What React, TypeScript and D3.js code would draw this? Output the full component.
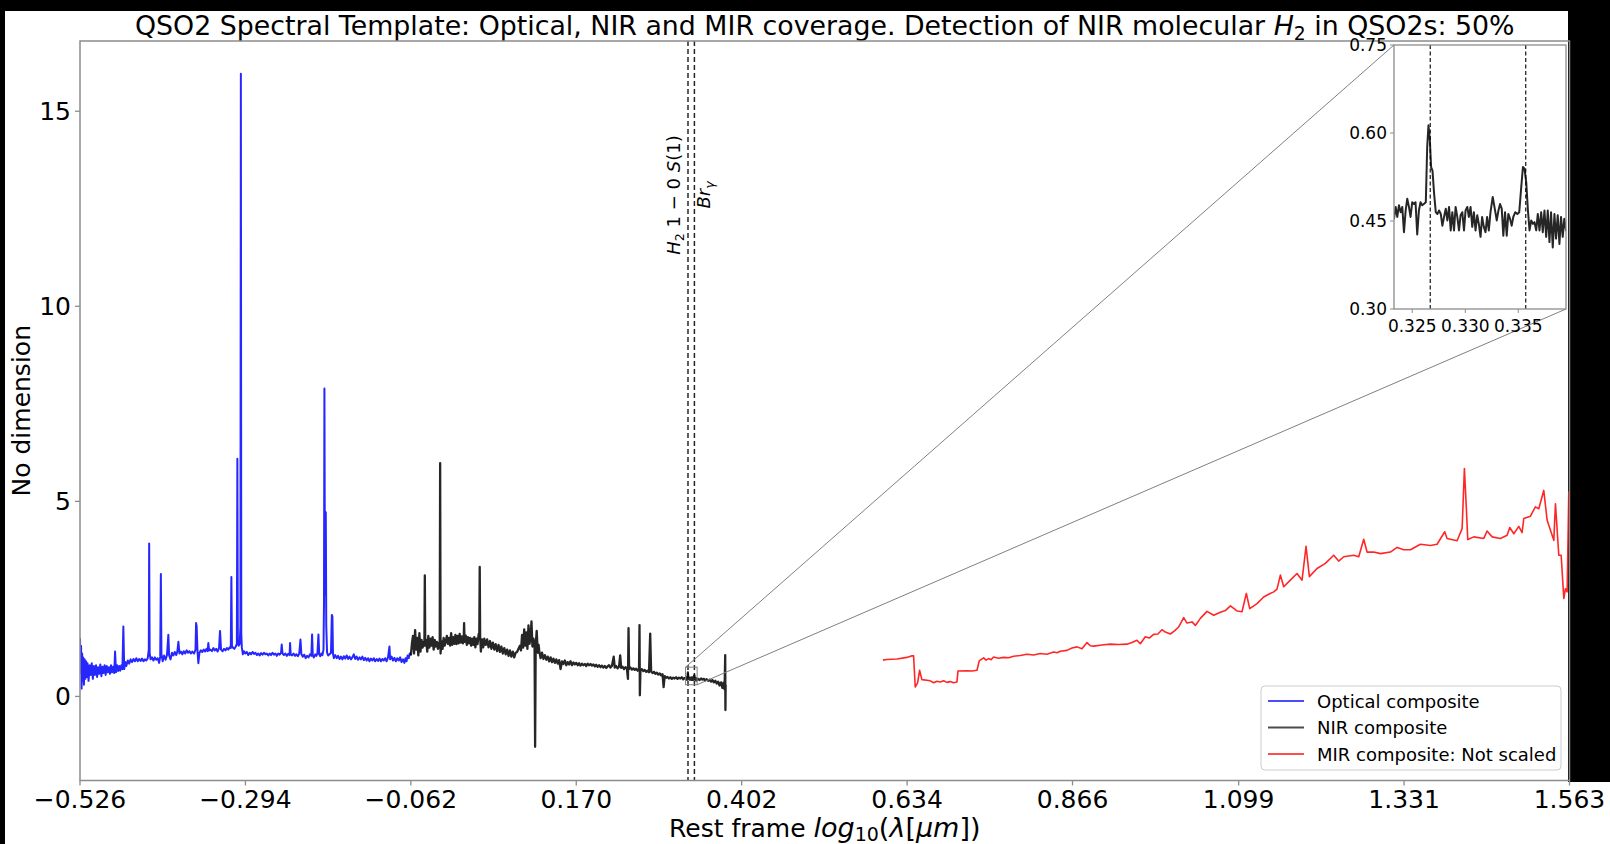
import React from 'react';
import * as d3 from 'd3';

// axis ticks
const xTicks = [-0.526, -0.294, -0.062, 0.17, 0.402, 0.634, 0.866, 1.099, 1.331, 1.563];
const xTickLabels = ['−0.526', '−0.294', '−0.062', '0.170', '0.402', '0.634', '0.866', '1.099', '1.331', '1.563'];
const yTicks = [0, 5, 10, 15];
const insetXTicks = [0.325, 0.33, 0.335];
const insetXTickLabels = ['0.325', '0.330', '0.335'];
const insetYTicks = [0.3, 0.45, 0.6, 0.75];
const insetYTickLabels = ['0.30', '0.45', '0.60', '0.75'];

// H2 1-0 S(1) and Br gamma, log10(lambda)
const lineWaves = [0.3267, 0.3357];

const legendLabels = ['Optical composite', 'NIR composite', 'MIR composite: Not scaled'];
const seriesColors = ['#0000ff', '#000000', '#ff0000'];

// optical composite (log10 um, flux)
const optical: [number, number][] = [
  [-0.526, 1.5], [-0.5252, 0.6], [-0.5245, 1.3], [-0.5238, 0.2], [-0.523, 1.1], [-0.5222, 0.4], [-0.5215, 1.0],
  [-0.5205, 0.3], [-0.5195, 0.95], [-0.5185, 0.45], [-0.5175, 0.9], [-0.5165, 0.5], [-0.5155, 0.85], [-0.514, 0.4],
  [-0.5125, 0.8], [-0.511, 0.55], [-0.5095, 0.85], [-0.508, 0.45], [-0.5065, 0.78], [-0.505, 0.55], [-0.5035, 0.8],
  [-0.502, 0.5], [-0.5005, 0.75], [-0.499, 0.58], [-0.4975, 0.82], [-0.496, 0.52], [-0.4945, 0.76], [-0.493, 0.6],
  [-0.4915, 0.8], [-0.49, 0.55], [-0.4885, 0.78], [-0.487, 0.62], [-0.4855, 0.75], [-0.484, 0.58], [-0.4825, 0.8],
  [-0.481, 0.62], [-0.4795, 0.76], [-0.478, 0.6], [-0.4768, 1.15], [-0.4755, 0.62], [-0.474, 0.8], [-0.4725, 0.65],
  [-0.471, 0.78], [-0.4695, 0.66], [-0.468, 0.8], [-0.4665, 0.7], [-0.4652, 1.79], [-0.464, 0.7], [-0.4625, 0.88],
  [-0.461, 0.78], [-0.459, 0.92], [-0.457, 0.84], [-0.455, 0.95], [-0.453, 0.88], [-0.451, 0.96], [-0.449, 0.9],
  [-0.447, 0.98], [-0.445, 0.9], [-0.443, 0.96], [-0.441, 0.91], [-0.439, 0.97], [-0.437, 0.9], [-0.435, 0.95],
  [-0.433, 0.92], [-0.431, 0.98], [-0.4295, 1.2], [-0.429, 3.92], [-0.4283, 1.1], [-0.427, 0.95], [-0.425, 1.0],
  [-0.423, 0.92], [-0.421, 1.0], [-0.419, 0.94], [-0.417, 0.98], [-0.415, 0.86], [-0.4135, 1.02], [-0.4126, 3.14],
  [-0.4118, 1.08], [-0.41, 0.9], [-0.408, 1.05], [-0.406, 0.94], [-0.404, 1.06], [-0.4021, 1.58], [-0.401, 1.05],
  [-0.399, 0.95], [-0.397, 1.12], [-0.395, 1.05], [-0.393, 1.14], [-0.391, 1.06], [-0.3895, 1.15], [-0.388, 1.4],
  [-0.3865, 1.1], [-0.3845, 1.15], [-0.3825, 1.08], [-0.3805, 1.16], [-0.3785, 1.1], [-0.3765, 1.18], [-0.3745, 1.12],
  [-0.3725, 1.16], [-0.3705, 1.1], [-0.3685, 1.15], [-0.366, 1.1], [-0.364, 1.2], [-0.3632, 1.88], [-0.3624, 1.8],
  [-0.3612, 1.15], [-0.36, 0.85], [-0.3585, 1.12], [-0.3565, 1.18], [-0.3545, 1.14], [-0.3525, 1.2], [-0.3505, 1.15],
  [-0.3485, 1.22], [-0.347, 1.16], [-0.346, 1.37], [-0.345, 1.18], [-0.343, 1.2], [-0.341, 1.16], [-0.339, 1.24],
  [-0.337, 1.18], [-0.335, 1.22], [-0.333, 1.15], [-0.331, 1.24], [-0.3296, 1.68], [-0.3282, 1.2], [-0.326, 1.16],
  [-0.324, 1.22], [-0.322, 1.18], [-0.32, 1.24], [-0.318, 1.2], [-0.316, 1.26], [-0.3145, 1.24], [-0.3137, 3.06],
  [-0.3129, 1.3], [-0.3115, 1.25], [-0.3095, 1.22], [-0.3075, 1.28], [-0.306, 1.35], [-0.3053, 6.09], [-0.3046, 1.4],
  [-0.3035, 1.3], [-0.302, 1.35], [-0.301, 1.8], [-0.3004, 15.96], [-0.2998, 1.6], [-0.299, 1.25], [-0.2975, 1.08],
  [-0.296, 1.16], [-0.294, 1.1], [-0.292, 1.14], [-0.29, 1.06], [-0.288, 1.12], [-0.286, 1.08], [-0.284, 1.14],
  [-0.282, 1.09], [-0.28, 1.12], [-0.278, 1.06], [-0.276, 1.1], [-0.274, 1.05], [-0.272, 1.11], [-0.27, 1.07],
  [-0.268, 1.12], [-0.266, 1.08], [-0.264, 1.1], [-0.262, 1.05], [-0.26, 1.1], [-0.258, 1.06], [-0.256, 1.12],
  [-0.254, 1.07], [-0.252, 1.1], [-0.25, 1.04], [-0.248, 1.1], [-0.246, 1.07], [-0.244, 1.12], [-0.2431, 1.33],
  [-0.242, 1.1], [-0.24, 1.06], [-0.238, 1.1], [-0.236, 1.04], [-0.234, 1.09], [-0.232, 1.06], [-0.2314, 1.37],
  [-0.2305, 1.08], [-0.2285, 1.05], [-0.2265, 1.1], [-0.2245, 1.04], [-0.2225, 1.08], [-0.2205, 1.03], [-0.2185, 1.1],
  [-0.2168, 1.46], [-0.2155, 1.08], [-0.2135, 1.02], [-0.2115, 1.07], [-0.2095, 0.98], [-0.2075, 1.04], [-0.2055, 1.0],
  [-0.2035, 1.08], [-0.2015, 1.04], [-0.2005, 1.59], [-0.1995, 1.05], [-0.198, 1.0], [-0.196, 1.08], [-0.1945, 1.04],
  [-0.193, 1.1], [-0.1916, 1.59], [-0.1905, 1.08], [-0.189, 1.03], [-0.1875, 1.1], [-0.186, 1.06], [-0.1845, 1.2],
  [-0.1838, 2.4], [-0.1832, 7.89], [-0.1826, 3.8], [-0.182, 2.6], [-0.1813, 4.72], [-0.1806, 1.8], [-0.1795, 1.12],
  [-0.178, 1.05], [-0.176, 1.08], [-0.174, 1.12], [-0.1728, 2.09], [-0.172, 2.05], [-0.1712, 1.1], [-0.17, 0.98],
  [-0.168, 1.06], [-0.166, 0.98], [-0.164, 1.04], [-0.162, 0.96], [-0.16, 1.02], [-0.158, 0.95], [-0.156, 1.03],
  [-0.154, 0.97], [-0.152, 1.05], [-0.15, 0.96], [-0.148, 1.02], [-0.146, 0.95], [-0.144, 1.0], [-0.142, 1.08],
  [-0.14, 0.96], [-0.138, 1.02], [-0.136, 0.94], [-0.134, 1.0], [-0.132, 0.95], [-0.13, 1.02], [-0.128, 0.93],
  [-0.126, 0.99], [-0.124, 0.92], [-0.122, 0.98], [-0.12, 0.9], [-0.118, 0.97], [-0.116, 0.92], [-0.114, 0.98],
  [-0.112, 0.9], [-0.11, 0.96], [-0.108, 0.91], [-0.106, 0.97], [-0.104, 0.9], [-0.102, 0.96], [-0.1, 0.92],
  [-0.098, 0.98], [-0.096, 0.9], [-0.094, 1.0], [-0.092, 1.28], [-0.091, 0.95], [-0.089, 1.02], [-0.087, 0.92],
  [-0.085, 0.99], [-0.083, 0.9], [-0.081, 0.98], [-0.079, 0.92], [-0.077, 1.0], [-0.075, 0.88], [-0.073, 0.95],
  [-0.071, 0.86], [-0.0695, 0.98], [-0.068, 0.9], [-0.0665, 1.05], [-0.065, 0.98], [-0.0635, 1.1], [-0.062, 1.05],
];

// NIR composite, before the zoomed window
const nirHead: [number, number][] = [
  [-0.062, 1.05], [-0.0605, 1.35], [-0.059, 1.55], [-0.0575, 1.1], [-0.056, 1.7], [-0.0545, 1.2], [-0.053, 1.5],
  [-0.0515, 1.05], [-0.05, 1.62], [-0.0485, 1.15], [-0.047, 1.45], [-0.0455, 1.25], [-0.044, 1.4], [-0.043, 1.3],
  [-0.0424, 3.1], [-0.0418, 1.3], [-0.0405, 1.45], [-0.039, 1.15], [-0.0375, 1.55], [-0.036, 1.25], [-0.0345, 1.48],
  [-0.033, 1.3], [-0.0315, 1.52], [-0.03, 1.2], [-0.0285, 1.45], [-0.027, 1.28], [-0.0255, 1.4], [-0.024, 1.22],
  [-0.0225, 1.38], [-0.0215, 1.25], [-0.0209, 5.98], [-0.0203, 1.1], [-0.019, 1.42], [-0.0175, 1.22], [-0.016, 1.5],
  [-0.0145, 1.3], [-0.013, 1.42], [-0.0115, 1.55], [-0.01, 1.35], [-0.0085, 1.5], [-0.007, 1.3], [-0.0055, 1.62],
  [-0.004, 1.32], [-0.0025, 1.52], [-0.001, 1.35], [0.0005, 1.58], [0.002, 1.34], [0.0035, 1.55], [0.005, 1.36],
  [0.0065, 1.6], [0.008, 1.38], [0.0095, 1.54], [0.011, 1.36], [0.0122, 1.5], [0.0127, 1.88], [0.0133, 1.4],
  [0.015, 1.56], [0.0165, 1.32], [0.018, 1.52], [0.0195, 1.36], [0.021, 1.5], [0.0225, 1.3], [0.024, 1.48],
  [0.0255, 1.32], [0.027, 1.52], [0.0285, 1.26], [0.03, 1.48], [0.0315, 1.34], [0.0332, 1.6], [0.034, 1.55],
  [0.0346, 3.32], [0.0352, 1.55], [0.0362, 1.15], [0.0378, 1.46], [0.0395, 1.26], [0.041, 1.48], [0.043, 1.32],
  [0.045, 1.46], [0.047, 1.26], [0.049, 1.42], [0.051, 1.22], [0.053, 1.38], [0.055, 1.2], [0.057, 1.34],
  [0.059, 1.16], [0.061, 1.32], [0.063, 1.14], [0.065, 1.28], [0.067, 1.1], [0.069, 1.24], [0.071, 1.08],
  [0.073, 1.2], [0.075, 1.04], [0.077, 1.18], [0.079, 1.02], [0.081, 1.15], [0.083, 1.0], [0.085, 1.12],
  [0.087, 1.14], [0.089, 1.22], [0.091, 1.3], [0.0925, 1.18], [0.094, 1.58], [0.0955, 1.25], [0.097, 1.72],
  [0.0985, 1.3], [0.1, 1.64], [0.1015, 1.22], [0.103, 1.82], [0.1045, 1.35], [0.106, 1.55], [0.1072, 1.92],
  [0.1085, 1.28], [0.11, 1.48], [0.1115, 1.3], [0.1123, -1.29], [0.1131, 1.3], [0.1145, 1.68], [0.116, 1.12],
  [0.1172, 1.32], [0.118, 1.18], [0.12, 0.98], [0.122, 1.12], [0.124, 0.96], [0.126, 1.06], [0.128, 0.94],
  [0.13, 1.02], [0.132, 0.9], [0.134, 1.0], [0.136, 0.88], [0.138, 0.97], [0.14, 0.86], [0.142, 0.95],
  [0.144, 0.84], [0.146, 0.93], [0.148, 0.7], [0.15, 0.9], [0.152, 0.83], [0.154, 0.92], [0.156, 0.8],
  [0.158, 0.88], [0.16, 0.82], [0.162, 0.9], [0.164, 0.8], [0.166, 0.87], [0.168, 0.82], [0.17, 0.86],
  [0.172, 0.8], [0.174, 0.85], [0.176, 0.79], [0.178, 0.84], [0.18, 0.8], [0.182, 0.83], [0.184, 0.78],
  [0.186, 0.84], [0.188, 0.8], [0.19, 0.83], [0.192, 0.79], [0.194, 0.82], [0.196, 0.77], [0.198, 0.81],
  [0.2, 0.76], [0.202, 0.8], [0.204, 0.75], [0.206, 0.79], [0.208, 0.74], [0.21, 0.78], [0.212, 0.73],
  [0.214, 0.77], [0.216, 0.8], [0.218, 0.74], [0.22, 0.78], [0.2225, 1.02], [0.224, 0.74], [0.226, 0.78],
  [0.228, 0.72], [0.23, 0.76], [0.2316, 1.05], [0.233, 0.73], [0.235, 0.76], [0.237, 0.7], [0.239, 0.75],
  [0.241, 0.72], [0.2425, 0.45], [0.2433, 1.75], [0.2441, 0.7], [0.246, 0.74], [0.248, 0.69], [0.25, 0.72],
  [0.252, 0.68], [0.254, 0.71], [0.256, 0.66], [0.258, 0.7], [0.2587, 1.83], [0.2592, 0.03], [0.26, 0.66],
  [0.262, 0.7], [0.264, 0.65], [0.266, 0.68], [0.268, 0.63], [0.27, 0.66], [0.272, 0.62], [0.2737, 1.61],
  [0.275, 0.64], [0.277, 0.6], [0.279, 0.63], [0.281, 0.58], [0.283, 0.61], [0.285, 0.56], [0.287, 0.59],
  [0.289, 0.54], [0.291, 0.57], [0.2925, 0.24], [0.294, 0.52], [0.296, 0.48], [0.298, 0.5], [0.3, 0.46],
  [0.302, 0.49], [0.304, 0.45], [0.306, 0.48], [0.308, 0.46], [0.31, 0.49], [0.312, 0.45], [0.314, 0.48],
  [0.316, 0.46], [0.318, 0.49], [0.32, 0.44], [0.3215, 0.47],
];

// NIR composite inside the zoomed window
const nirZoom: [number, number][] = [
  [0.32328, 0.454], [0.32344, 0.474], [0.32359, 0.457], [0.32375, 0.477], [0.32391, 0.465], [0.32406, 0.474],
  [0.32422, 0.431], [0.32438, 0.468], [0.32453, 0.488], [0.32469, 0.474], [0.32484, 0.457], [0.325, 0.482],
  [0.32516, 0.479], [0.32531, 0.482], [0.32547, 0.427], [0.32563, 0.468], [0.32578, 0.482], [0.32594, 0.477],
  [0.32609, 0.479], [0.32628, 0.482], [0.32641, 0.576], [0.32653, 0.613], [0.32666, 0.588], [0.32678, 0.542],
  [0.32691, 0.536], [0.32706, 0.497], [0.32722, 0.465], [0.32738, 0.462], [0.32753, 0.468], [0.32769, 0.462],
  [0.32784, 0.442], [0.328, 0.457], [0.32816, 0.471], [0.32831, 0.451], [0.32847, 0.474], [0.32863, 0.434],
  [0.32878, 0.465], [0.32894, 0.434], [0.32909, 0.474], [0.32925, 0.457], [0.32941, 0.434], [0.32956, 0.46],
  [0.32972, 0.465], [0.32988, 0.434], [0.33003, 0.468], [0.33019, 0.474], [0.33034, 0.457], [0.3305, 0.474],
  [0.33066, 0.44], [0.33081, 0.465], [0.33097, 0.434], [0.33113, 0.46], [0.33128, 0.445], [0.33144, 0.423],
  [0.33159, 0.457], [0.33175, 0.44], [0.33191, 0.431], [0.33206, 0.457], [0.33222, 0.434], [0.33238, 0.465],
  [0.33259, 0.491], [0.33281, 0.468], [0.33297, 0.451], [0.33313, 0.468], [0.33328, 0.479], [0.33344, 0.471],
  [0.33359, 0.425], [0.33375, 0.465], [0.33391, 0.425], [0.33406, 0.462], [0.33422, 0.454], [0.33438, 0.442],
  [0.33453, 0.457], [0.33472, 0.465], [0.33491, 0.462], [0.33509, 0.465], [0.33528, 0.508], [0.33544, 0.542],
  [0.33559, 0.539], [0.33575, 0.516], [0.33591, 0.468], [0.33606, 0.434], [0.33622, 0.451], [0.33638, 0.445],
  [0.33653, 0.448], [0.33669, 0.434], [0.33684, 0.462], [0.337, 0.434], [0.33716, 0.465], [0.33731, 0.431],
  [0.33747, 0.468], [0.33763, 0.423], [0.33778, 0.468], [0.33794, 0.414], [0.33809, 0.465], [0.33825, 0.405],
  [0.33841, 0.462], [0.33856, 0.42], [0.33872, 0.46], [0.33888, 0.411], [0.33903, 0.457], [0.33919, 0.423],
  [0.33934, 0.454], [0.3395, 0.434],
];

// NIR composite, after the zoomed window
const nirTail: [number, number][] = [
  [0.341, 0.45], [0.343, 0.42], [0.345, 0.46], [0.347, 0.43], [0.349, 0.45], [0.351, 0.41], [0.353, 0.44],
  [0.355, 0.4], [0.357, 0.43], [0.359, 0.38], [0.361, 0.42], [0.363, 0.36], [0.365, 0.4], [0.367, 0.33],
  [0.369, 0.38], [0.371, 0.28], [0.373, 0.36], [0.375, 0.22], [0.3765, 0.35], [0.378, 0.18], [0.3789, 1.06],
  [0.3792, -0.35], [0.3795, 0.3],
];

// MIR composite
const mir: [number, number][] = [
  [0.6001, 0.93], [0.6057, 0.945], [0.6197, 0.96], [0.6337, 1.0], [0.6408, 1.04], [0.6431, 1.04], [0.6454, 0.24],
  [0.6487, 0.35], [0.6515, 0.67], [0.6548, 0.43], [0.6618, 0.415], [0.6665, 0.4], [0.6712, 0.35], [0.6758, 0.39],
  [0.6805, 0.37], [0.6852, 0.4], [0.6899, 0.36], [0.6945, 0.38], [0.6992, 0.35], [0.7039, 0.37], [0.7053, 0.65],
  [0.7179, 0.66], [0.725, 0.65], [0.732, 0.67], [0.7352, 0.91], [0.7413, 0.99], [0.7448, 0.93], [0.7483, 0.97],
  [0.7518, 0.94], [0.7553, 1.01], [0.7624, 0.98], [0.7694, 1.0], [0.7764, 0.99], [0.7834, 1.03], [0.7928, 1.05],
  [0.8021, 1.08], [0.8115, 1.06], [0.8208, 1.1], [0.8302, 1.08], [0.8395, 1.14], [0.8442, 1.12], [0.8489, 1.16],
  [0.8582, 1.18], [0.8652, 1.24], [0.8723, 1.27], [0.8793, 1.22], [0.8863, 1.38], [0.8909, 1.3], [0.8956, 1.29],
  [0.9073, 1.32], [0.919, 1.34], [0.9307, 1.33], [0.9424, 1.34], [0.9494, 1.38], [0.9564, 1.44], [0.9611, 1.35],
  [0.9681, 1.53], [0.974, 1.5], [0.9798, 1.59], [0.9857, 1.6], [0.9915, 1.71], [0.9962, 1.65], [1.0032, 1.6],
  [1.009, 1.68], [1.0149, 1.78], [1.0219, 2.02], [1.0266, 1.88], [1.0336, 1.91], [1.0383, 1.82], [1.0453, 2.0],
  [1.0546, 2.18], [1.064, 2.08], [1.0734, 2.16], [1.0804, 2.2], [1.0874, 2.32], [1.0967, 2.19], [1.1037, 2.17],
  [1.1098, 2.64], [1.1145, 2.25], [1.1248, 2.38], [1.1341, 2.55], [1.1411, 2.62], [1.1482, 2.68], [1.1528, 2.75],
  [1.1575, 3.11], [1.1622, 2.81], [1.1715, 2.98], [1.1809, 3.15], [1.1879, 2.98], [1.1935, 3.85], [1.1982, 3.07],
  [1.2089, 3.28], [1.2206, 3.41], [1.2323, 3.62], [1.2393, 3.47], [1.2464, 3.58], [1.2604, 3.62], [1.2674, 3.58],
  [1.2744, 4.03], [1.2791, 3.7], [1.2884, 3.7], [1.2978, 3.66], [1.3118, 3.7], [1.3212, 3.82], [1.3305, 3.76],
  [1.3399, 3.76], [1.3539, 3.9], [1.3679, 3.87], [1.3773, 3.9], [1.388, 4.22], [1.3913, 4.05], [1.4053, 3.99],
  [1.4124, 4.3], [1.4156, 5.84], [1.4184, 4.8], [1.4203, 4.02], [1.4287, 4.09], [1.4428, 4.05], [1.4474, 4.24],
  [1.4545, 4.09], [1.4661, 4.05], [1.4755, 4.13], [1.4792, 4.33], [1.4849, 4.17], [1.4919, 4.36], [1.4965, 4.2],
  [1.4989, 4.56], [1.5082, 4.62], [1.5152, 4.86], [1.5199, 4.81], [1.5269, 5.28], [1.5316, 4.52], [1.5363, 4.26],
  [1.541, 4.0], [1.5433, 4.94], [1.548, 3.62], [1.5513, 3.62], [1.555, 2.51], [1.5573, 2.76], [1.5597, 2.68],
  [1.562, 5.24], [1.5653, 4.86],
];

const nir = nirHead.concat(nirZoom, nirTail);

const W = 1610;
const H = 844;
const AX = { left: 80, right: 1569.5, top: 41, bottom: 780.5 };
const IN = { left: 1394, right: 1566, top: 45, bottom: 309 };
const FONT = 'DejaVu Sans, sans-serif';
const FRAME = '#8c8c8c';

export default function App() {
  const x = d3.scaleLinear().domain([-0.526, 1.563]).range([AX.left, AX.right]);
  const y = d3.scaleLinear().domain([-2.155, 16.8]).range([AX.bottom, AX.top]);
  const xi = d3.scaleLinear().domain([0.32328, 0.3395]).range([IN.left, IN.right]);
  const yi = d3.scaleLinear().domain([0.3, 0.75]).range([IN.bottom, IN.top]);

  const line = d3.line<[number, number]>().x(d => x(d[0])).y(d => y(d[1]));
  const lineInset = d3.line<[number, number]>().x(d => xi(d[0])).y(d => yi(d[1]));

  // zoom box in main-axes coordinates
  const [zx0, zx1] = xi.domain();
  const [zy0, zy1] = yi.domain();
  const box = { x0: x(zx0), x1: x(zx1), y0: y(zy1), y1: y(zy0) };

  const series = [optical, nir, mir];
  const widths = [2, 2.3, 1.6];

  return (
    <svg width={W} height={H} style={{ position: 'absolute', left: 0, top: 0, display: 'block' }} fontFamily={FONT}>
      <defs>
        <clipPath id="mainClip">
          <rect x={AX.left} y={AX.top} width={AX.right - AX.left} height={AX.bottom - AX.top} />
        </clipPath>
        <clipPath id="insetClip">
          <rect x={IN.left} y={IN.top} width={IN.right - IN.left} height={IN.bottom - IN.top} />
        </clipPath>
      </defs>
      <rect x={0} y={0} width={W} height={H} fill="#000" />
      <rect x={5} y={11} width={1568 - 5} height={H - 11} fill="#fff" />
      <rect x={1560} y={782} width={W - 1560} height={H - 782} fill="#fff" />

      {/* title */}
      <text x={(AX.left + AX.right) / 2} y={35} textAnchor="middle" fontSize={26.8}>
        <tspan>QSO2 Spectral Template: Optical, NIR and MIR coverage. Detection of NIR molecular </tspan>
        <tspan fontStyle="italic">H</tspan>
        <tspan fontSize={18.8} dy={4.5}>2</tspan>
        <tspan dy={-4.5}> in QSO2s: 50%</tspan>
      </text>

      {/* spectra */}
      <g clipPath="url(#mainClip)">
        {series.map((s, i) => (
          <path key={i} d={line(s) || ''} fill="none" stroke={seriesColors[i]} strokeOpacity={0.85}
            strokeWidth={widths[i]} strokeLinejoin="round" />
        ))}
        {lineWaves.map((w, i) => (
          <line key={i} x1={x(w)} x2={x(w)} y1={AX.top} y2={AX.bottom} stroke="#000" strokeOpacity={0.85}
            strokeWidth={1.5} strokeDasharray="5,3" />
        ))}
      </g>

      {/* line labels */}
      <text transform={`translate(${x(lineWaves[0]) - 8},195) rotate(-90)`} textAnchor="middle" fontSize={18}>
        <tspan fontStyle="italic">H</tspan>
        <tspan fontSize={12.6} dy={4}>2</tspan>
        <tspan dy={-4}> 1 − 0 </tspan>
        <tspan fontStyle="italic">S</tspan>
        <tspan>(1)</tspan>
      </text>
      <text transform={`translate(${x(lineWaves[1]) + 16},195) rotate(-90)`} textAnchor="middle" fontSize={18}>
        <tspan fontStyle="italic">Br</tspan>
        <tspan fontStyle="italic" fontSize={12.6} dy={4}>γ</tspan>
      </text>

      {/* main frame */}
      <rect x={AX.left} y={AX.top} width={AX.right - AX.left} height={AX.bottom - AX.top} fill="none"
        stroke={FRAME} strokeWidth={1.5} />
      {xTicks.map((t, i) => (
        <g key={i}>
          <line x1={x(t)} x2={x(t)} y1={AX.bottom} y2={AX.bottom + 5} stroke={FRAME} strokeWidth={1.3} />
          <text x={x(t)} y={AX.bottom + 27} textAnchor="middle" fontSize={25}>{xTickLabels[i]}</text>
        </g>
      ))}
      {yTicks.map(t => (
        <g key={t}>
          <line x1={AX.left - 5} x2={AX.left} y1={y(t)} y2={y(t)} stroke={FRAME} strokeWidth={1.3} />
          <text x={AX.left - 9} y={y(t) + 9} textAnchor="end" fontSize={25}>{t}</text>
        </g>
      ))}

      {/* axis labels */}
      <text x={(AX.left + AX.right) / 2} y={836.5} textAnchor="middle" fontSize={25}>
        <tspan>Rest frame </tspan>
        <tspan fontStyle="italic" fontSize={27}>log</tspan>
        <tspan fontSize={19} dy={4}>10</tspan>
        <tspan fontSize={27} dy={-4}>(</tspan>
        <tspan fontStyle="italic" fontSize={27}>λ</tspan>
        <tspan fontSize={27}>[</tspan>
        <tspan fontStyle="italic" fontSize={27}>μm</tspan>
        <tspan fontSize={27}>])</tspan>
      </text>
      <text transform={`translate(30,${(AX.top + AX.bottom) / 2}) rotate(-90)`} textAnchor="middle" fontSize={25}>
        No dimension
      </text>

      {/* zoom box and connectors */}
      <rect x={box.x0} y={box.y0} width={box.x1 - box.x0} height={box.y1 - box.y0} fill="none" stroke="#808080"
        strokeWidth={1} />
      <line x1={box.x0} y1={box.y0} x2={IN.left} y2={IN.top} stroke="#808080" strokeWidth={1} />
      <line x1={box.x1} y1={box.y1} x2={IN.right} y2={IN.bottom} stroke="#808080" strokeWidth={1} />

      {/* inset */}
      <rect x={IN.left} y={IN.top} width={IN.right - IN.left} height={IN.bottom - IN.top} fill="#fff" />
      <g clipPath="url(#insetClip)">
        <path d={lineInset(nir) || ''} fill="none" stroke="#000" strokeOpacity={0.85} strokeWidth={2}
          strokeLinejoin="round" />
        {lineWaves.map((w, i) => (
          <line key={i} x1={xi(w)} x2={xi(w)} y1={IN.top} y2={IN.bottom} stroke="#000" strokeOpacity={0.85}
            strokeWidth={1.3} strokeDasharray="4,2.5" />
        ))}
      </g>
      <rect x={IN.left} y={IN.top} width={IN.right - IN.left} height={IN.bottom - IN.top} fill="none"
        stroke={FRAME} strokeWidth={1.3} />
      {insetXTicks.map((t, i) => (
        <g key={i}>
          <line x1={xi(t)} x2={xi(t)} y1={IN.bottom} y2={IN.bottom + 4} stroke={FRAME} strokeWidth={1} />
          <text x={xi(t)} y={IN.bottom + 23} textAnchor="middle" fontSize={17}>{insetXTickLabels[i]}</text>
        </g>
      ))}
      {insetYTicks.map((t, i) => (
        <g key={i}>
          <line x1={IN.left - 4} x2={IN.left} y1={yi(t)} y2={yi(t)} stroke={FRAME} strokeWidth={1} />
          <text x={IN.left - 7} y={yi(t) + 6} textAnchor="end" fontSize={17}>{insetYTickLabels[i]}</text>
        </g>
      ))}

      {/* legend */}
      <rect x={1261} y={686} width={300} height={84} rx={4} fill="#fff" fillOpacity={0.8} stroke="#cccccc"
        strokeWidth={1} />
      {legendLabels.map((l, i) => (
        <g key={i}>
          <line x1={1268} x2={1304} y1={701 + i * 26.5} y2={701 + i * 26.5} stroke={seriesColors[i]}
            strokeOpacity={0.7} strokeWidth={2} />
          <text x={1317} y={707.5 + i * 26.5} fontSize={18}>{l}</text>
        </g>
      ))}
    </svg>
  );
}
